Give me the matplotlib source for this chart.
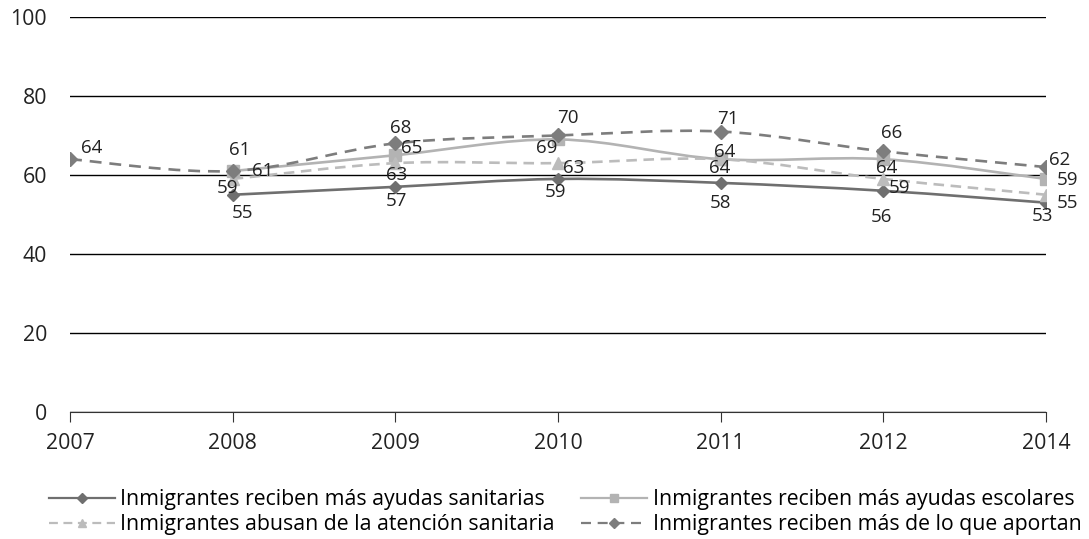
import matplotlib.pyplot as plt
from matplotlib.path import Path
from matplotlib.patches import PathPatch
from matplotlib.lines import Line2D
import numpy as np

plt.rcParams['font.family'] = ['Open Sans', 'DejaVu Sans']

years = ["2007", "2008", "2009", "2010", "2011", "2012", "2014"]

sanitarias = [None, 55, 57, 59, 58, 56, 53]
escolares = [None, 61, 65, 69, 64, 64, 59]
abusan = [None, 59, 63, 63, 64, 59, 55]
aportan = [64, 61, 68, 70, 71, 66, 62]

labels = [
    "Inmigrantes reciben más ayudas sanitarias",
    "Inmigrantes reciben más ayudas escolares",
    "Inmigrantes abusan de la atención sanitaria",
    "Inmigrantes reciben más de lo que aportan",
]

# label offsets in pixels (dx, dy) for each point
off_san = [None, (10, -18), (1, -14), (-3, -13), (0, -20), (-2, -26), (-4, -13)]
off_esc = [None, (30, 0), (16, 7), (-11, -9), (4, 7), (3, -9), (22, -1)]
off_abu = [None, (-5, -9), (1, -12), (16, -5), (-1, -9), (16, -9), (22, -8)]
off_apo = [(22, 11), (7, 21), (5, 15), (10, 17), (7, 13), (8, 18), (14, 7)]


def smooth_path(xs, ys):
    # catmull-rom segments as cubic beziers
    pts = np.column_stack([xs, ys]).astype(float)
    n = len(pts)
    verts = [pts[0]]
    codes = [Path.MOVETO]
    for i in range(n - 1):
        p0 = pts[i - 1] if i > 0 else pts[i]
        p1 = pts[i]
        p2 = pts[i + 1]
        p3 = pts[i + 2] if i + 2 < n else pts[i + 1]
        c1 = p1 + (p2 - p0) / 6.0
        c2 = p2 - (p3 - p1) / 6.0
        verts += [c1, c2, p2]
        codes += [Path.CURVE4] * 3
    return Path(verts, codes)


fig = plt.figure(figsize=(10.89, 5.39), dpi=100)
ax = fig.add_axes([0.0643, 0.2356, 0.8962, 0.7329])

series = [
    (sanitarias, off_san, "#6f6f6f", "-", "D", 6.5),
    (escolares, off_esc, "#b3b3b3", "-", "s", 8),
    (abusan, off_abu, "#bcbcbc", (0, (4, 2.5)), "^", 8),
    (aportan, off_apo, "#7d7d7d", (0, (4.5, 3)), "D", 7),
]

handles = []
for (vals, offs, col, ls, mk, ms), lab in zip(series, labels):
    xs = [i for i, v in enumerate(vals) if v is not None]
    ys = [v for v in vals if v is not None]
    patch = PathPatch(smooth_path(xs, ys), facecolor="none", edgecolor=col,
                      lw=1.9, linestyle=ls, zorder=3)
    ax.add_patch(patch)
    ax.plot(xs, ys, linestyle="none", marker=mk, ms=ms, color=col,
            markeredgecolor=col, zorder=4)
    for x, y in zip(xs, ys):
        dx, dy = offs[x]
        ax.annotate(str(y), (x, y), xytext=(dx, dy), textcoords="offset pixels",
                    ha="center", va="center", fontsize=13.5, color="#222222",
                    zorder=5)
    handles.append(Line2D([], [], color=col, lw=1.6, linestyle=ls, marker=mk,
                          ms=ms * 0.75, markeredgecolor=col))

ax.set_xlim(0, len(years) - 1)
ax.set_ylim(0, 100)
ax.set_xticks(range(len(years)))
ax.set_xticklabels(years)
ax.set_yticks(range(0, 101, 20))
ax.yaxis.grid(True, color="black", lw=1)
ax.set_axisbelow(True)
for s in ["top", "right", "left"]:
    ax.spines[s].set_visible(False)
ax.spines["bottom"].set_color("#333333")
ax.tick_params(axis="y", length=0, pad=16.5, labelsize=15.3, labelcolor="#222222")
ax.tick_params(axis="x", length=7, direction="out", pad=8, labelsize=15.3,
               labelcolor="#222222", color="#333333")

order = [0, 2, 1, 3]
fig.legend([handles[i] for i in order], [labels[i] for i in order],
           loc="lower left", bbox_to_anchor=(0.033, -0.017), ncol=2,
           frameon=False, fontsize=15.3, handlelength=3.1, handletextpad=0.25,
           columnspacing=1.27, labelspacing=0.2, borderaxespad=0.2)

fig.savefig("out.png", dpi=100)
